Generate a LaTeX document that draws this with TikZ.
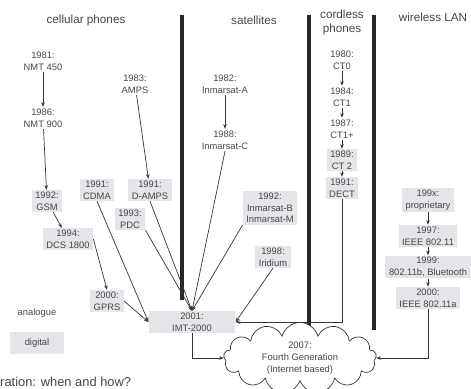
\documentclass[tikz,border=0pt]{standalone}
\usepackage{fontspec}
\setmainfont{Liberation Sans}
\usetikzlibrary{arrows.meta,shapes.symbols}
\definecolor{txtGray}{RGB}{70,70,70}
\definecolor{boxGray}{RGB}{228,229,232}
\definecolor{lineGray}{RGB}{55,55,55}

\begin{document}
\begin{tikzpicture}[x=0.03cm,y=-0.03cm,
  lbl/.style={font=\fontsize{8}{10}\selectfont,text=txtGray,align=center,
              inner xsep=3pt,inner ysep=1.5pt},
  dig/.style={lbl,fill=boxGray},
  hd/.style={font=\fontsize{10}{12}\selectfont,text=txtGray,align=center},
  arr/.style={-{Stealth[length=4pt,width=3pt]},lineGray,semithick},
  sep/.style={line width=3pt,black!85}
]
  \useasboundingbox (0,0) rectangle (471,389);
  % headers
  \node[hd] (H1) at (86,20)  {cellular phones};
  \node[hd] (H2) at (254,20) {satellites};
  \node[hd] (H3) at (342,22) {cordless\\phones};
  \node[hd] (H4) at (433,17) {wireless LAN};
  % column separators
  \draw[sep](182,15)--(182,300);
  \draw[sep](309,15)--(309,330);
  \draw[sep](374,15)--(374,330);
  % ---- cellular phones ----
  \node[lbl] (C1) at (43,61)   {1981:\\NMT 450};
  \node[lbl] (C2) at (43,118)  {1986:\\NMT 900};
  \node[lbl] (C3) at (135,84)  {1983:\\AMPS};
  \node[dig] (C4) at (97,190)  {1991:\\CDMA};
  \node[dig] (C5) at (150,190) {1991:\\D-AMPS};
  \node[dig] (C6) at (47,201)  {1992:\\GSM};
  \node[dig] (C7) at (130,219) {1993:\\PDC};
  \node[dig] (C8) at (68,239)  {1994:\\DCS 1800};
  \node[dig] (C9) at (107,301) {2000:\\GPRS};
  \node[dig,minimum width=2.6cm] (IMT) at (192,322) {2001:\\IMT-2000};
  % legend
  \node[lbl] (L1) at (37,313) {analogue};
  \node[dig,minimum width=1.6cm,minimum height=0.68cm] (L2) at (37,343) {digital};
  % ---- satellites ----
  \node[lbl] (S1) at (225,84)  {1982:\\Inmarsat-A};
  \node[lbl] (S2) at (225,140) {1988:\\Inmarsat-C};
  \node[dig] (S3) at (270,208) {1992:\\Inmarsat-B\\Inmarsat-M};
  \node[dig] (S4) at (273,257) {1998:\\Iridium};
  % ---- cordless phones ----
  \node[lbl] (K1) at (342,60)  {1980:\\CT0};
  \node[lbl] (K2) at (342,97)  {1984:\\CT1};
  \node[lbl] (K3) at (342,129) {1987:\\CT1+};
  \node[dig] (K4) at (342,160) {1989:\\CT 2};
  \node[dig] (K5) at (342,188) {1991:\\DECT};
  % ---- wireless LAN ----
  \node[dig] (W1) at (428,200) {199x:\\proprietary};
  \node[dig] (W2) at (428,236) {1997:\\IEEE 802.11};
  \node[dig] (W3) at (428,267) {1999:\\802.11b, Bluetooth};
  \node[dig] (W4) at (428,298) {2000:\\IEEE 802.11a};
  % fourth generation
  \node[cloud,cloud puffs=13,aspect=3.3,draw=lineGray,semithick,fill=white,
        lbl,inner xsep=0pt,inner ysep=0pt,minimum width=4.1cm,minimum height=1.3cm]
        (G4) at (300,358) {2007:\\Fourth Generation\\(Internet based)};
  \node[font=\fontsize{11}{13}\selectfont,text=txtGray,anchor=west,inner sep=0pt]
        (T1) at (0,382) {ration: when and how?};
  % ---- evolution arrows ----
  \draw[arr](C1)--(C2);
  \draw[arr](C2)--(C6);
  \draw[arr](C6)--(C8);
  \draw[arr](C8.east)--(C9.north);
  \draw[arr](C3)--(C5);
  \draw[arr](C9.east)--(IMT.west);
  \draw[arr](C4.south)--(IMT.west);
  \draw[arr](C7.south east)--(IMT.north);
  \draw[arr](C5.south)--(IMT.north);
  \draw[arr](S1)--(S2);
  \draw[arr](S2.south)--(IMT.north);
  \draw[arr](S3.south west)--(IMT.north);
  \draw[arr](S4.south)--(IMT.east);
  \draw[arr](K1)--(K2);
  \draw[arr](K2)--(K3);
  \draw[arr](K3)--(K4);
  \draw[arr](K4)--(K5);
  \draw[arr](K5.south)|-(IMT.east);
  \draw[arr](W1)--(W2);
  \draw[arr](W2)--(W3);
  \draw[arr](W3)--(W4);
  \draw[arr](IMT.south)|-(G4.west);
  \draw[arr](W4.south)|-(G4.east);
\end{tikzpicture}
\end{document}
